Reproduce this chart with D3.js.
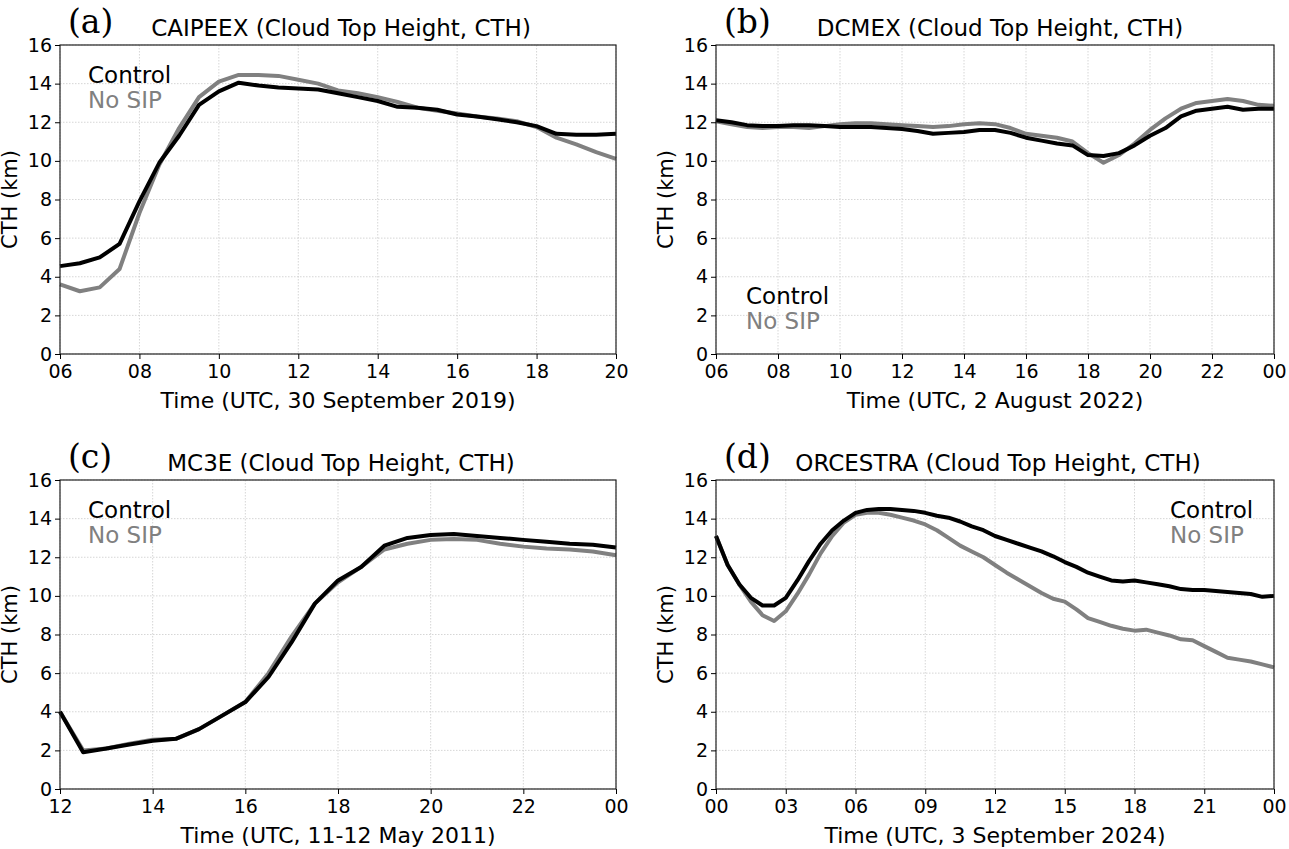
<!DOCTYPE html>
<html><head><meta charset="utf-8">
<script src="https://cdn.jsdelivr.net/npm/d3@7"></script>
<style>body{margin:0;background:#fff}svg{font-family:"DejaVu Sans",sans-serif}</style>
</head><body>
<svg id="c" width="1289" height="849"></svg>
<script>
// (a) CAIPEEX, half-hourly 06..20
const aHours = d3.range(6, 20.01, 0.5);
const aControl = [4.55,4.7,5.0,5.7,7.9,9.9,11.3,12.9,13.6,14.05,13.9,13.8,13.75,13.7,13.5,13.3,13.1,12.8,12.75,12.65,12.4,12.3,12.15,12.0,11.8,11.4,11.35,11.35,11.4];
const aNoSIP = [3.6,3.25,3.45,4.4,7.3,9.8,11.7,13.3,14.1,14.45,14.45,14.4,14.2,14.0,13.65,13.5,13.3,13.05,12.75,12.6,12.45,12.3,12.2,12.05,11.75,11.2,10.85,10.45,10.1];
// (b) DCMEX, half-hourly 06..24
const bHours = d3.range(6, 24.01, 0.5);
const bControl = [12.1,12.0,11.85,11.8,11.8,11.85,11.85,11.8,11.75,11.75,11.75,11.7,11.65,11.55,11.4,11.45,11.5,11.6,11.6,11.45,11.2,11.05,10.9,10.8,10.3,10.25,10.4,10.8,11.3,11.7,12.3,12.6,12.7,12.8,12.65,12.7,12.7];
const bNoSIP = [12.05,11.9,11.75,11.7,11.75,11.75,11.7,11.8,11.9,11.95,11.95,11.9,11.85,11.8,11.75,11.8,11.9,11.95,11.9,11.7,11.4,11.3,11.2,11.0,10.4,9.9,10.3,10.9,11.6,12.2,12.7,13.0,13.1,13.2,13.1,12.9,12.85];
// (c) MC3E, half-hourly 12..24
const cHours = d3.range(12, 24.01, 0.5);
const cControl = [4.0,1.9,2.1,2.3,2.5,2.6,3.1,3.8,4.5,5.8,7.6,9.6,10.8,11.5,12.6,13.0,13.15,13.2,13.1,13.0,12.9,12.8,12.7,12.65,12.5];
const cNoSIP = [4.0,2.0,2.1,2.35,2.55,2.6,3.1,3.8,4.5,6.0,7.9,9.6,10.7,11.5,12.4,12.7,12.9,12.95,12.9,12.7,12.55,12.45,12.4,12.3,12.1];
// (d) ORCESTRA, half-hourly 00..24
const dHours = d3.range(0, 24.01, 0.5);
const dControl = [13.1,11.6,10.6,9.9,9.5,9.5,9.9,10.8,11.8,12.7,13.4,13.9,14.3,14.45,14.5,14.5,14.45,14.4,14.3,14.15,14.05,13.85,13.6,13.4,13.1,12.9,12.7,12.5,12.3,12.05,11.75,11.5,11.2,11.0,10.8,10.75,10.8,10.7,10.6,10.5,10.35,10.3,10.3,10.25,10.2,10.15,10.1,9.95,10.0];
const dNoSIP = [13.1,11.6,10.6,9.7,9.0,8.7,9.2,10.1,11.1,12.2,13.1,13.8,14.2,14.3,14.3,14.2,14.05,13.9,13.7,13.4,13.0,12.6,12.3,12.0,11.6,11.2,10.85,10.5,10.15,9.85,9.7,9.3,8.85,8.65,8.45,8.3,8.2,8.25,8.1,7.95,7.75,7.7,7.4,7.1,6.8,6.7,6.6,6.45,6.3];
const yTicks = d3.range(0, 16.1, 2);

const panels = [
  {lab:"(a)", title:"CAIPEEX (Cloud Top Height, CTH)", xl:"Time (UTC, 30 September 2019)", h:aHours, c:aControl, n:aNoSIP, dom:[6,20], ticks:d3.range(6,20.1,2), x0:60, x1:616, y0:45, y1:354, leg:[88,75], tc:341},
  {lab:"(b)", title:"DCMEX (Cloud Top Height, CTH)", xl:"Time (UTC, 2 August 2022)", h:bHours, c:bControl, n:bNoSIP, dom:[6,24], ticks:d3.range(6,24.1,2), x0:716, x1:1274, y0:45, y1:354, leg:[746,296], tc:1000},
  {lab:"(c)", title:"MC3E (Cloud Top Height, CTH)", xl:"Time (UTC, 11-12 May 2011)", h:cHours, c:cControl, n:cNoSIP, dom:[12,24], ticks:d3.range(12,24.1,2), x0:60, x1:616, y0:480, y1:789, leg:[88,510], tc:341},
  {lab:"(d)", title:"ORCESTRA (Cloud Top Height, CTH)", xl:"Time (UTC, 3 September 2024)", h:dHours, c:dControl, n:dNoSIP, dom:[0,24], ticks:d3.range(0,24.1,3), x0:716, x1:1274, y0:480, y1:789, leg:[1170,510], tc:998}
];

const svg = d3.select("#c");
const fmt = v => String(v % 24).padStart(2, "0");
panels.forEach(p => {
  const x = d3.scaleLinear().domain(p.dom).range([p.x0, p.x1]);
  const y = d3.scaleLinear().domain([0,16]).range([p.y1, p.y0]);
  const g = svg.append("g");
  // grid
  g.selectAll(".gx").data(p.ticks).join("line").attr("x1",d=>x(d)).attr("x2",d=>x(d)).attr("y1",p.y0).attr("y2",p.y1)
    .attr("stroke","#ccc").attr("stroke-width",0.8).attr("stroke-dasharray","1.5,1.5");
  g.selectAll(".gy").data(yTicks).join("line").attr("y1",d=>y(d)).attr("y2",d=>y(d)).attr("x1",p.x0).attr("x2",p.x1)
    .attr("stroke","#ccc").attr("stroke-width",0.8).attr("stroke-dasharray","1.5,1.5");
  const line = arr => d3.line().x((d,i)=>x(p.h[i])).y(d=>y(d))(arr);
  g.append("path").attr("d",line(p.n)).attr("fill","none").attr("stroke","#808080").attr("stroke-width",4).attr("stroke-linejoin","round");
  g.append("path").attr("d",line(p.c)).attr("fill","none").attr("stroke","#000").attr("stroke-width",4).attr("stroke-linejoin","round");
  g.append("rect").attr("x",p.x0).attr("y",p.y0).attr("width",p.x1-p.x0).attr("height",p.y1-p.y0).attr("fill","none").attr("stroke","#222").attr("stroke-width",1.2);
  const ax = g.append("g").attr("transform",`translate(0,${p.y1})`).call(d3.axisBottom(x).tickValues(p.ticks).tickFormat(fmt).tickSize(5).tickSizeOuter(0));
  const ay = g.append("g").attr("transform",`translate(${p.x0},0)`).call(d3.axisLeft(y).tickValues(yTicks).tickSize(5).tickSizeOuter(0));
  [ax,ay].forEach(a=>{a.select(".domain").remove(); a.selectAll("text").attr("font-size",19).attr("fill","#000").attr("font-family","DejaVu Sans");});
  ax.selectAll("text").attr("dy","0.85em");
  g.append("text").attr("x",(p.x0+p.x1)/2).attr("y",p.y1+54).attr("text-anchor","middle").attr("font-size",22).text(p.xl);
  g.append("text").attr("transform",`translate(${p.x0-43},${(p.y0+p.y1)/2}) rotate(-90)`).attr("text-anchor","middle").attr("font-size",21).text("CTH (km)");
  g.append("text").attr("x",p.tc).attr("y",p.y0-9).attr("text-anchor","middle").attr("font-size",23).text(p.title);
  g.append("text").attr("x",p.x0+8).attr("y",p.y0-12).attr("font-size",33).attr("font-family","DejaVu Serif, serif").text(p.lab);
  g.append("text").attr("x",p.leg[0]).attr("y",p.leg[1]+8).attr("font-size",23).text("Control");
  g.append("text").attr("x",p.leg[0]).attr("y",p.leg[1]+33).attr("font-size",23).attr("fill","#808080").text("No SIP");
});
</script>
</body></html>
